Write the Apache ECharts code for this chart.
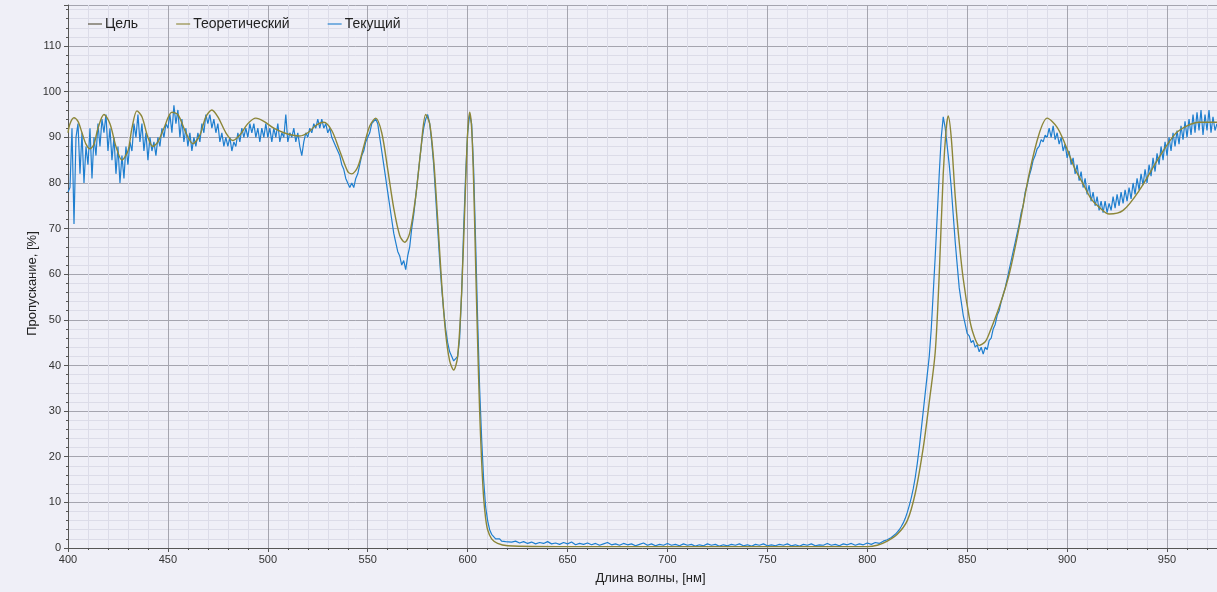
<!DOCTYPE html>
<html>
<head>
<meta charset="utf-8">
<script src="https://cdn.jsdelivr.net/npm/echarts@6/dist/echarts.min.js"></script>
<style>
html,body{margin:0;padding:0;background:#efeff7;}
#chart{width:1217px;height:592px;}
</style>
</head>
<body>
<div id="chart"></div>
<script>
// ---- Data ----
const seriesNames = ['Цель', 'Теоретический', 'Текущий'];
const xTitle = 'Длина волны, [нм]';
const yTitle = 'Пропускание, [%]';

// Theoretical curve: wavelength (nm) and transmission (%)
const theoWl = [400,401,403,405,407,409,411,413,415,418,421,424,427,430,432,434.5,437,440,442.5,445,448,452,455,459,462.5,466,469,472,475,479,482.5,486,490,494,498,503,508,512,516,520,524,528,532,536,540,542,545,548,551,554,557,560,563,566,568.5,571,574,576.5,579,581,583,585,587,589,591,593,595,597,599,600,601,602,603,604,605,606,607,608,609,610,612,615,620,650,700,750,800,805,810,815,820,824,828,831,834,836,838,839.5,840.5,842,844,846,848,851,853,856,859,861,866,871,876,881,886,890,895,899,904,908,912,916,921,928,936,946,954,960,966,975];
const theoT  = [91,93,94.3,93.5,91,88.5,87.5,88.5,92,95,93,88,85,87,92,95.8,94.5,90,88,89,92,95.5,95,91,88.6,90.5,94.5,96,94.5,91,89.3,90.5,93,94.2,93.5,92,91,90.5,90.3,91,92.6,93.3,91.5,87,82.5,82,83.5,88,92.5,94.2,91,83,74.5,68.5,67,69,77,87,95,93,85,72,58,47,41,39,42,56,80,91,95.5,92,80,62,45,30,19,11,6.5,4,2,1,0.5,0.3,0.3,0.3,0.3,0.6,1.5,3,6,12,22,32,43,60,82,92,94.7,90,77,67,59,50.6,47,44.4,45.2,47,52.8,60,70.3,82,90.8,94.2,92.2,88.5,83,79.8,76.5,74.7,73.2,74,78.3,85.6,90.7,92.5,93.3,93.3];

// Measured curve, segment A: 400..620 nm, step 1 nm
const measAStart = 400, measAStep = 1;
const measA = [
78,79,92,71,90,93,82,91,80,88,
84,92,81,90,86,93,88,94,91,95,
87,92,85,90,82,88,80,86,81,88,
84,89,87,93,90,95,89,93,87,91,
85,90,87,89,86,90,88,92,90,93,
92,95,91,97,93,96,90,94,89,92,
88,91,87,90,88,91,89,93,91,95,
93,95,92,94,91,93,89,91,88,90,
88,90,87,89,88,91,89,92,90,92,
90,93,91,93,90,92,89,92,90,93,
90,92,89,92,90,93,89,91,90,95,
89,91,90,92,89,91,88,86,89,91,
90,92,91,93,92,94,92,94,92,93,
91,92,90,90,88,87,86,84,83,81,
81,79,80,79,81,82,84,86,87,89,
90,91,93,93,94,93,90,87,84,81,
78,75,72,69,67,65,64,62,63,61,
64,66,70,73,77,81,85,89,92,94,
95,93,89,84,77,70,63,57,52,48,
45,43,42,41,41,42,46,56,70,82,
91,95,93,83,67,50,35,24,15,9,
6,4,3,2.5,2,1.8,2,1.5,1.7,1.4,
1.6];

// Measured curve, segment B: 622..810 nm, step 2 nm
const measBStart = 622, measBStep = 2;
const measB = [
1.3,1.5,1.1,1.4,1.0,1.3,0.9,1.2,1.0,1.4,
0.9,1.1,0.8,1.2,0.9,1.3,0.7,1.0,0.8,1.1,
0.7,1.0,0.6,0.9,1.2,0.7,0.9,0.6,1.0,0.7,
0.9,0.5,0.8,1.1,0.6,0.9,0.5,0.8,0.6,1.0,
0.6,0.8,0.5,0.9,0.6,0.8,0.4,0.7,0.5,0.9,
0.6,0.8,0.4,0.7,0.5,0.8,0.6,0.9,0.5,0.7,
0.4,0.8,0.6,0.9,0.5,0.7,0.5,0.8,0.6,0.9,
0.5,0.7,0.4,0.8,0.6,0.9,0.5,0.7,0.6,1.0,
0.6,0.8,0.5,0.9,0.7,1.0,0.6,0.9,0.7,1.1,
0.8,1.2,1.0,1.5,1.8];

// Measured curve, segment C: 811..975 nm, step 1 nm
const measCStart = 811, measCStep = 1;
const measC = [
2.0,2.3,2.6,3.0,3.5,4.0,4.7,5.5,6.5,7.8,
9.3,11,13,15.5,18.5,22,26,30,34,38,
42,48,56,64,73,82,90,94.5,92,88,
84,79,73,67,62,57,54,51,49,47,
46.5,45,45.5,44,44.5,43,44,42.5,44,43.5,
45.5,46,48,49,51,52,54,55.5,57,59,
61,63,65,67,69,71,73.5,75,78,79.5,
81.5,83,85,86,87.5,88,89.5,89,90.5,90,
92,90,92.5,89.5,91,88.5,90,87,88.5,85.5,
87,84,85.5,82,84,80.5,82.5,79,81,77.5,
79.5,76,78,75,77,74,76,73.5,76,73.5,
75.5,74,77,74.5,77.5,75,78,75.5,78.5,76,
79,76.5,80,77.5,81,78.5,82,79.5,83,80,
84,81.5,85.5,82.5,86.5,84,88,85,89,86,
90,87,91,88,91.5,88.5,92.5,89.5,93.5,90,
94,90.5,95,91,95.5,91.5,96,90.5,95,91.5,
96,91,94.5,91.5,93];

const targetData = []; // target curve not separately visible

// ---- Build ----
function seg(start, step, vals) { return vals.map((v, i) => [start + i * step, v]); }
const measured = seg(measAStart, measAStep, measA)
  .concat(seg(measBStart, measBStep, measB))
  .concat(seg(measCStart, measCStep, measC));
const theo = theoWl.map((w, i) => [w, theoT[i]]);

const chart = echarts.init(document.getElementById('chart'));
const FF = 'Liberation Sans, Arial, sans-serif';
const axisFont = { fontFamily: FF, fontSize: 11, color: '#333' };
const lineIcon = 'path://M0,0L20,0L20,1.6L0,1.6Z';
chart.setOption({
  backgroundColor: '#efeff7',
  animation: false,
  grid: { left: 68, right: 0, top: 5, bottom: 44 },
  legend: {
    left: 83, top: 12,
    icon: lineIcon,
    itemWidth: 14, itemHeight: 2, itemGap: 38,
    textStyle: { fontFamily: FF, fontSize: 14, color: '#222', padding: [0, 0, 0, -2] },
    data: seriesNames
  },
  xAxis: {
    type: 'value', min: 400, max: 975, interval: 50,
    name: xTitle, nameLocation: 'middle', nameGap: 24, nameMoveOverlap: false,
    nameTextStyle: { fontFamily: FF, fontSize: 13, color: '#222', padding: [0, 0, 0, 16] },
    axisLine: { lineStyle: { color: '#555' } },
    axisTick: { length: 4, lineStyle: { color: '#555' } },
    minorTick: { show: true, splitNumber: 5, length: 2, lineStyle: { color: '#555' } },
    axisLabel: Object.assign({}, axisFont, { margin: 6, showMaxLabel: false }),
    splitLine: { show: true, lineStyle: { color: '#a5a5af', width: 1 } },
    minorSplitLine: { show: true, lineStyle: { color: '#dcdce8', width: 1 } }
  },
  yAxis: {
    type: 'value', min: 0, max: 119, interval: 10,
    name: yTitle, nameLocation: 'middle', nameGap: 29, nameRotate: 90, nameMoveOverlap: false,
    nameTextStyle: { fontFamily: FF, fontSize: 13, color: '#222', padding: [0, 0, 0, -14] },
    axisLine: { show: true, lineStyle: { color: '#555' } },
    axisTick: { show: true, length: 4, lineStyle: { color: '#555' } },
    minorTick: { show: true, splitNumber: 5, length: 2, lineStyle: { color: '#555' } },
    axisLabel: Object.assign({}, axisFont, { margin: 7, showMaxLabel: false }),
    splitLine: { show: true, lineStyle: { color: '#a5a5af', width: 1 } },
    minorSplitLine: { show: true, lineStyle: { color: '#dcdce8', width: 1 } }
  },
  series: [
    { name: seriesNames[0], type: 'line', data: targetData, symbol: 'none',
      lineStyle: { color: '#55503a', width: 1.3 }, itemStyle: { color: '#55503a' } },
    { name: seriesNames[2], type: 'line', data: measured, symbol: 'none',
      lineStyle: { color: '#1f7fcf', width: 1.2 }, itemStyle: { color: '#1f7fcf' } },
    { name: seriesNames[1], type: 'line', data: theo, symbol: 'none', smooth: 0.3,
      lineStyle: { color: '#8c8638', width: 1.4 }, itemStyle: { color: '#8c8638' }, z: 3 }
  ]
});
</script>
</body>
</html>
